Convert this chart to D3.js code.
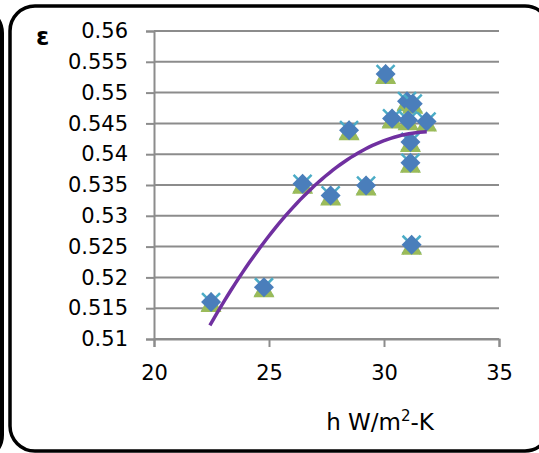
<!DOCTYPE html>
<html><head><meta charset="utf-8">
<script src="https://cdn.jsdelivr.net/npm/d3@7"></script>
<style>html,body{margin:0;padding:0;background:#fff;}svg{display:block;}</style>
</head><body>
<script>
// Data
const hValues = [22.48, 24.78, 26.46, 27.68, 29.22, 28.48, 30.07, 31.00, 31.25, 30.35, 31.05, 31.85, 31.15, 31.15, 31.20];
const epsValues = [0.5160, 0.5184, 0.5352, 0.5333, 0.5349, 0.5439, 0.5530, 0.5486, 0.5482, 0.5458, 0.5455, 0.5453, 0.5420, 0.5386, 0.5253];
// points read along the purple polynomial trendline
const trendH = [22.43, 24.75, 26.64, 28.38, 29.83, 31.27, 31.86];
const trendEps = [0.5123, 0.5250, 0.5347, 0.5385, 0.5418, 0.5434, 0.5438];
const xTicks = [20, 25, 30, 35];
const yTicks = [0.51, 0.515, 0.52, 0.525, 0.53, 0.535, 0.54, 0.545, 0.55, 0.555, 0.56];
const yTickLabels = ["0.51", "0.515", "0.52", "0.525", "0.53", "0.535", "0.54", "0.545", "0.55", "0.555", "0.56"];

const W = 539, H = 453;
const svg = d3.select("body").append("svg").attr("width", W).attr("height", H);

// borders
svg.append("rect").attr("x", -400).attr("y", 8).attr("width", 402).attr("height", 452)
  .attr("rx", 25).attr("fill", "none").attr("stroke", "#000").attr("stroke-width", 4);
svg.append("rect").attr("x", 10).attr("y", 6).attr("width", 540).attr("height", 445)
  .attr("rx", 25).attr("fill", "none").attr("stroke", "#000").attr("stroke-width", 3.5);

const x = d3.scaleLinear().domain([20, 35]).range([154, 499]);
const y = d3.scaleLinear().domain([0.51, 0.56]).range([339, 31]);
const grid = "#8c8c8c";
const font = "DejaVu Sans, sans-serif";

// gridlines
svg.append("g").selectAll("line").data(yTicks).join("line")
  .attr("x1", x(20)).attr("x2", x(35))
  .attr("y1", d => y(d)).attr("y2", d => y(d))
  .attr("stroke", grid).attr("stroke-width", 2);

// y axis
const yAxis = svg.append("g").attr("transform", `translate(${x(20)},0)`)
  .call(d3.axisLeft(y).tickValues(yTicks).tickFormat((d, i) => yTickLabels[i]).tickSize(8).tickPadding(18));
yAxis.select(".domain").attr("stroke", grid).attr("stroke-width", 2);
yAxis.selectAll(".tick line").attr("stroke", grid).attr("stroke-width", 2);
yAxis.selectAll(".tick text").attr("font-family", font).attr("font-size", 21).attr("fill", "#000");

// x axis
const xAxis = svg.append("g").attr("transform", `translate(0,${y(0.51)})`)
  .call(d3.axisBottom(x).tickValues(xTicks).tickFormat(d3.format("d")).tickSize(8).tickPadding(18));
xAxis.select(".domain").attr("stroke", grid).attr("stroke-width", 2);
xAxis.selectAll(".tick line").attr("stroke", grid).attr("stroke-width", 2);
xAxis.selectAll(".tick text").attr("font-family", font).attr("font-size", 21).attr("fill", "#000");

// markers
const pts = hValues.map((h, i) => ({h, e: epsValues[i]}));
const mk = svg.append("g").selectAll("g").data(pts).join("g")
  .attr("transform", d => `translate(${x(d.h)},${y(d.e)})`);
mk.append("path").attr("d", "M-9,-9L9,9M-9,9L9,-9").attr("stroke", "#4BACC6").attr("stroke-width", 2.5);
mk.append("path").attr("d", "M0,-10L10.5,10L-10.5,10Z").attr("fill", "#9BBB59");
mk.append("path").attr("d", "M0,-10L10,0L0,10L-10,0Z").attr("fill", "#4A7EBB");

// polynomial (order 2) trendline: least-squares fit through the read trend points
function polyfit2(xs, ys) {
  const n = xs.length;
  let s = [0,0,0,0,0], t = [0,0,0];
  for (let i = 0; i < n; i++) {
    const xi = xs[i], yi = ys[i];
    for (let k = 0; k < 5; k++) s[k] += Math.pow(xi, k);
    for (let k = 0; k < 3; k++) t[k] += yi * Math.pow(xi, k);
  }
  const A = [[s[0], s[1], s[2], t[0]], [s[1], s[2], s[3], t[1]], [s[2], s[3], s[4], t[2]]];
  for (let i = 0; i < 3; i++) {
    let p = i;
    for (let r = i + 1; r < 3; r++) if (Math.abs(A[r][i]) > Math.abs(A[p][i])) p = r;
    [A[i], A[p]] = [A[p], A[i]];
    for (let r = 0; r < 3; r++) if (r !== i) {
      const f = A[r][i] / A[i][i];
      for (let c = i; c < 4; c++) A[r][c] -= f * A[i][c];
    }
  }
  return [A[0][3] / A[0][0], A[1][3] / A[1][1], A[2][3] / A[2][2]];
}
const xm = d3.mean(trendH);
const coef = polyfit2(trendH.map(v => v - xm), trendEps);
const hMin = d3.min(trendH), hMax = d3.max(trendH);
const curvePts = d3.range(0, 61).map(i => {
  const h = hMin + (hMax - hMin) * i / 60, u = h - xm;
  return [x(h), y(coef[0] + coef[1] * u + coef[2] * u * u)];
});
svg.append("path").attr("d", d3.line()(curvePts))
  .attr("fill", "none").attr("stroke", "#7030A0").attr("stroke-width", 3.5);

// axis titles
svg.append("text").attr("x", 36).attr("y", 45).attr("font-family", font).attr("font-weight", "bold")
  .attr("font-size", 24).text("ε");
const t = svg.append("text").attr("x", 380).attr("y", 430).attr("text-anchor", "middle")
  .attr("font-family", font).attr("font-size", 23);
t.append("tspan").text("h W/m");
t.append("tspan").attr("font-size", 15).attr("dy", -9).text("2");
t.append("tspan").attr("dy", 9).text("-K");
</script>
</body></html>
